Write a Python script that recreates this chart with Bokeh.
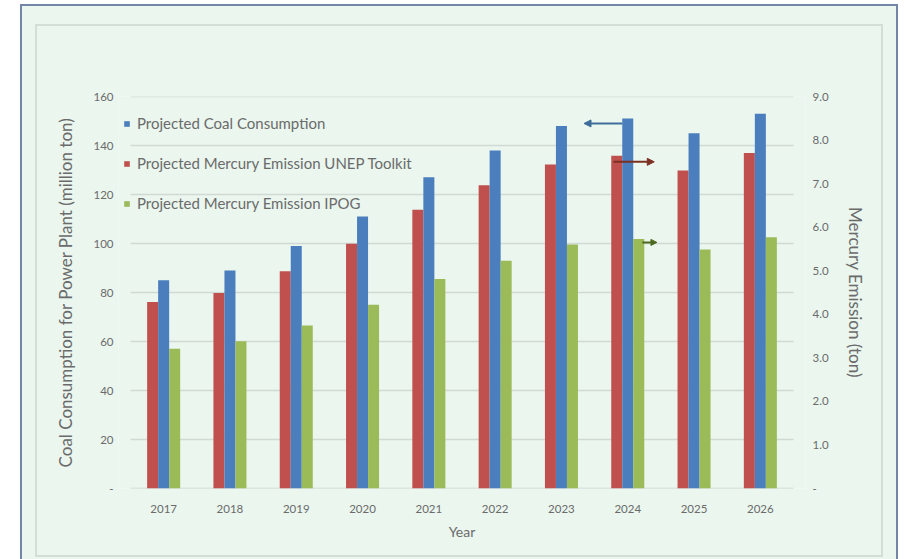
from bokeh.plotting import figure
from bokeh.models import (Range1d, LinearAxis, FixedTicker, Legend, LegendItem,
                          Arrow, NormalHead, FactorRange, ColumnDataSource,
                          NumeralTickFormatter, InlineStyleSheet)
from bokeh.transform import dodge
from bokeh.embed import file_html
from bokeh.resources import INLINE

# ---- data -------------------------------------------------------------
years = ["2017", "2018", "2019", "2020", "2021",
         "2022", "2023", "2024", "2025", "2026"]
coal_mt = [85, 89, 99, 111, 127, 138, 148, 151, 145, 153]            # million ton
hg_unep = [4.28, 4.49, 4.99, 5.62, 6.40, 6.96, 7.44, 7.64, 7.30, 7.70]  # ton
hg_ipog = [3.21, 3.38, 3.74, 4.22, 4.81, 5.23, 5.60, 5.73, 5.49, 5.77]  # ton

left_ticks = [0, 20, 40, 60, 80, 100, 120, 140, 160]
right_ticks = [0, 1, 2, 3, 4, 5, 6, 7, 8, 9]

# callout arrows next to the 2024 bars
callout_year = "2024"
callout_coal_y = 149
callout_unep_y = 7.5
callout_ipog_y = 5.65

# ---- styling ----------------------------------------------------------
BLUE, RED, GREEN = "#4a7ebd", "#c0504d", "#9bbb59"
BG = "#eaf6ee"
TXT = "#6b6b6b"
GRID = "#d2d9d4"
FONT = "Lato"
BAR_W = 0.166
X_PAD = 0.181   # room left of the first group, in category units

src = ColumnDataSource(dict(year=years, coal=coal_mt, unep=hg_unep, ipog=hg_ipog))

p = figure(x_range=FactorRange(*years, range_padding=X_PAD,
                               range_padding_units="absolute"),
           y_range=Range1d(0, 160),
           width=909, height=559, output_backend="svg", toolbar_location=None,
           min_border_left=118, min_border_right=104,
           min_border_top=96, min_border_bottom=71)
p.extra_y_ranges = {"hg": Range1d(0, 9)}

p.background_fill_color = BG
p.border_fill_color = BG
p.outline_line_color = None
p.xgrid.grid_line_color = None
p.ygrid.grid_line_color = None

# horizontal gridlines across the category band only
n = len(years)
grid = ColumnDataSource(dict(x0=[0] * len(left_ticks), x1=[n] * len(left_ticks),
                             y=left_ticks,
                             c=[GRID if t else "#cbd2cd" for t in left_ticks]))
p.segment(x0="x0", x1="x1", y0="y", y1="y", source=grid,
          line_color="c", line_width=1.5)

r_unep = p.vbar(x=dodge("year", -BAR_W, range=p.x_range), top="unep", width=BAR_W,
                source=src, y_range_name="hg", fill_color=RED, line_color=None)
r_coal = p.vbar(x=dodge("year", 0.0, range=p.x_range), top="coal", width=BAR_W,
                source=src, fill_color=BLUE, line_color=None)
r_ipog = p.vbar(x=dodge("year", BAR_W, range=p.x_range), top="ipog", width=BAR_W,
                source=src, y_range_name="hg", fill_color=GREEN, line_color=None)

# ---- axes -------------------------------------------------------------
ya = p.yaxis[0]
ya.ticker = FixedTicker(ticks=left_ticks)
ya.major_label_overrides = {0: "-"}
ya.major_label_standoff = 5
ya.axis_label = "Coal Consumption for Power Plant (million ton)"
ya.axis_label_standoff = 14

ra = LinearAxis(y_range_name="hg", ticker=FixedTicker(ticks=right_ticks),
                formatter=NumeralTickFormatter(format="0.0"))
ra.major_label_overrides = {0: "-"}
ra.major_label_standoff = 7
ra.axis_label = "Mercury Emission (ton)"
ra.axis_label_standoff = 13
p.add_layout(ra, "right")

xa = p.xaxis[0]
xa.major_label_standoff = 16
xa.axis_label = "Year"
xa.axis_label_standoff = 7

for ax in (ya, ra, xa):
    ax.axis_line_color = None
    ax.major_tick_line_color = None
    ax.minor_tick_line_color = None
    ax.major_tick_out = 0
    ax.major_tick_in = 0
    ax.minor_tick_out = 0
    ax.major_label_text_font = FONT
    ax.major_label_text_font_size = "11.5px"
    ax.major_label_text_color = TXT
    ax.axis_label_text_font = FONT
    ax.axis_label_text_font_size = "17px"
    ax.axis_label_text_font_style = "normal"
    ax.axis_label_text_color = TXT
xa.axis_label_text_font_size = "14px"

# ---- legend -----------------------------------------------------------
legend = Legend(items=[
    LegendItem(label="Projected Coal Consumption", renderers=[r_coal]),
    LegendItem(label="Projected Mercury Emission UNEP Toolkit", renderers=[r_unep]),
    LegendItem(label="Projected Mercury Emission IPOG", renderers=[r_ipog]),
], location=(5, 275))
legend.background_fill_alpha = 0
legend.border_line_alpha = 0
legend.padding = 0
legend.margin = 0
legend.spacing = 20
legend.label_height = 20
legend.glyph_width = 7
legend.glyph_height = 7
legend.label_standoff = 7
legend.label_text_font = FONT
legend.label_text_font_size = "15px"
legend.label_text_color = TXT
p.add_layout(legend)

# ---- callout arrows on the 2024 group ---------------------------------
ci = years.index(callout_year) + 0.5
p.add_layout(Arrow(end=NormalHead(size=7, fill_color="#3e6e99", line_color="#3e6e99"),
                   x_start=ci - BAR_W / 2, y_start=callout_coal_y,
                   x_end=ci - 0.66, y_end=callout_coal_y,
                   line_color="#3e6e99", line_width=2))
p.add_layout(Arrow(end=NormalHead(size=7, fill_color="#7d2f22", line_color="#7d2f22"),
                   x_start=ci - 0.215, x_end=ci + 0.40,
                   y_start=callout_unep_y, y_end=callout_unep_y, y_range_name="hg",
                   line_color="#7d2f22", line_width=2))
p.add_layout(Arrow(end=NormalHead(size=6, fill_color="#4c6a1f", line_color="#4c6a1f"),
                   x_start=ci + 0.22, x_end=ci + 0.44,
                   y_start=callout_ipog_y, y_end=callout_ipog_y, y_range_name="hg",
                   line_color="#4c6a1f", line_width=2))

# ---- page frame: white margin, blue-grey outer rule, pale inner rule ----
p.stylesheets = [InlineStyleSheet(css="""
:host::after {
  content: ""; position: absolute; left: 20px; top: 4px;
  width: 878px; height: 600px; box-sizing: border-box;
  border: 2.5px solid #7486a8; box-shadow: 0 0 0 40px #ffffff;
  pointer-events: none; z-index: 1000;
}
:host::before {
  content: ""; position: absolute; left: 35px; top: 24px;
  width: 848px; height: 533px; box-sizing: border-box;
  border: 2px solid #d3ded6; pointer-events: none; z-index: 999;
}
""")]

open("out.html", "w").write(file_html(p, INLINE))
